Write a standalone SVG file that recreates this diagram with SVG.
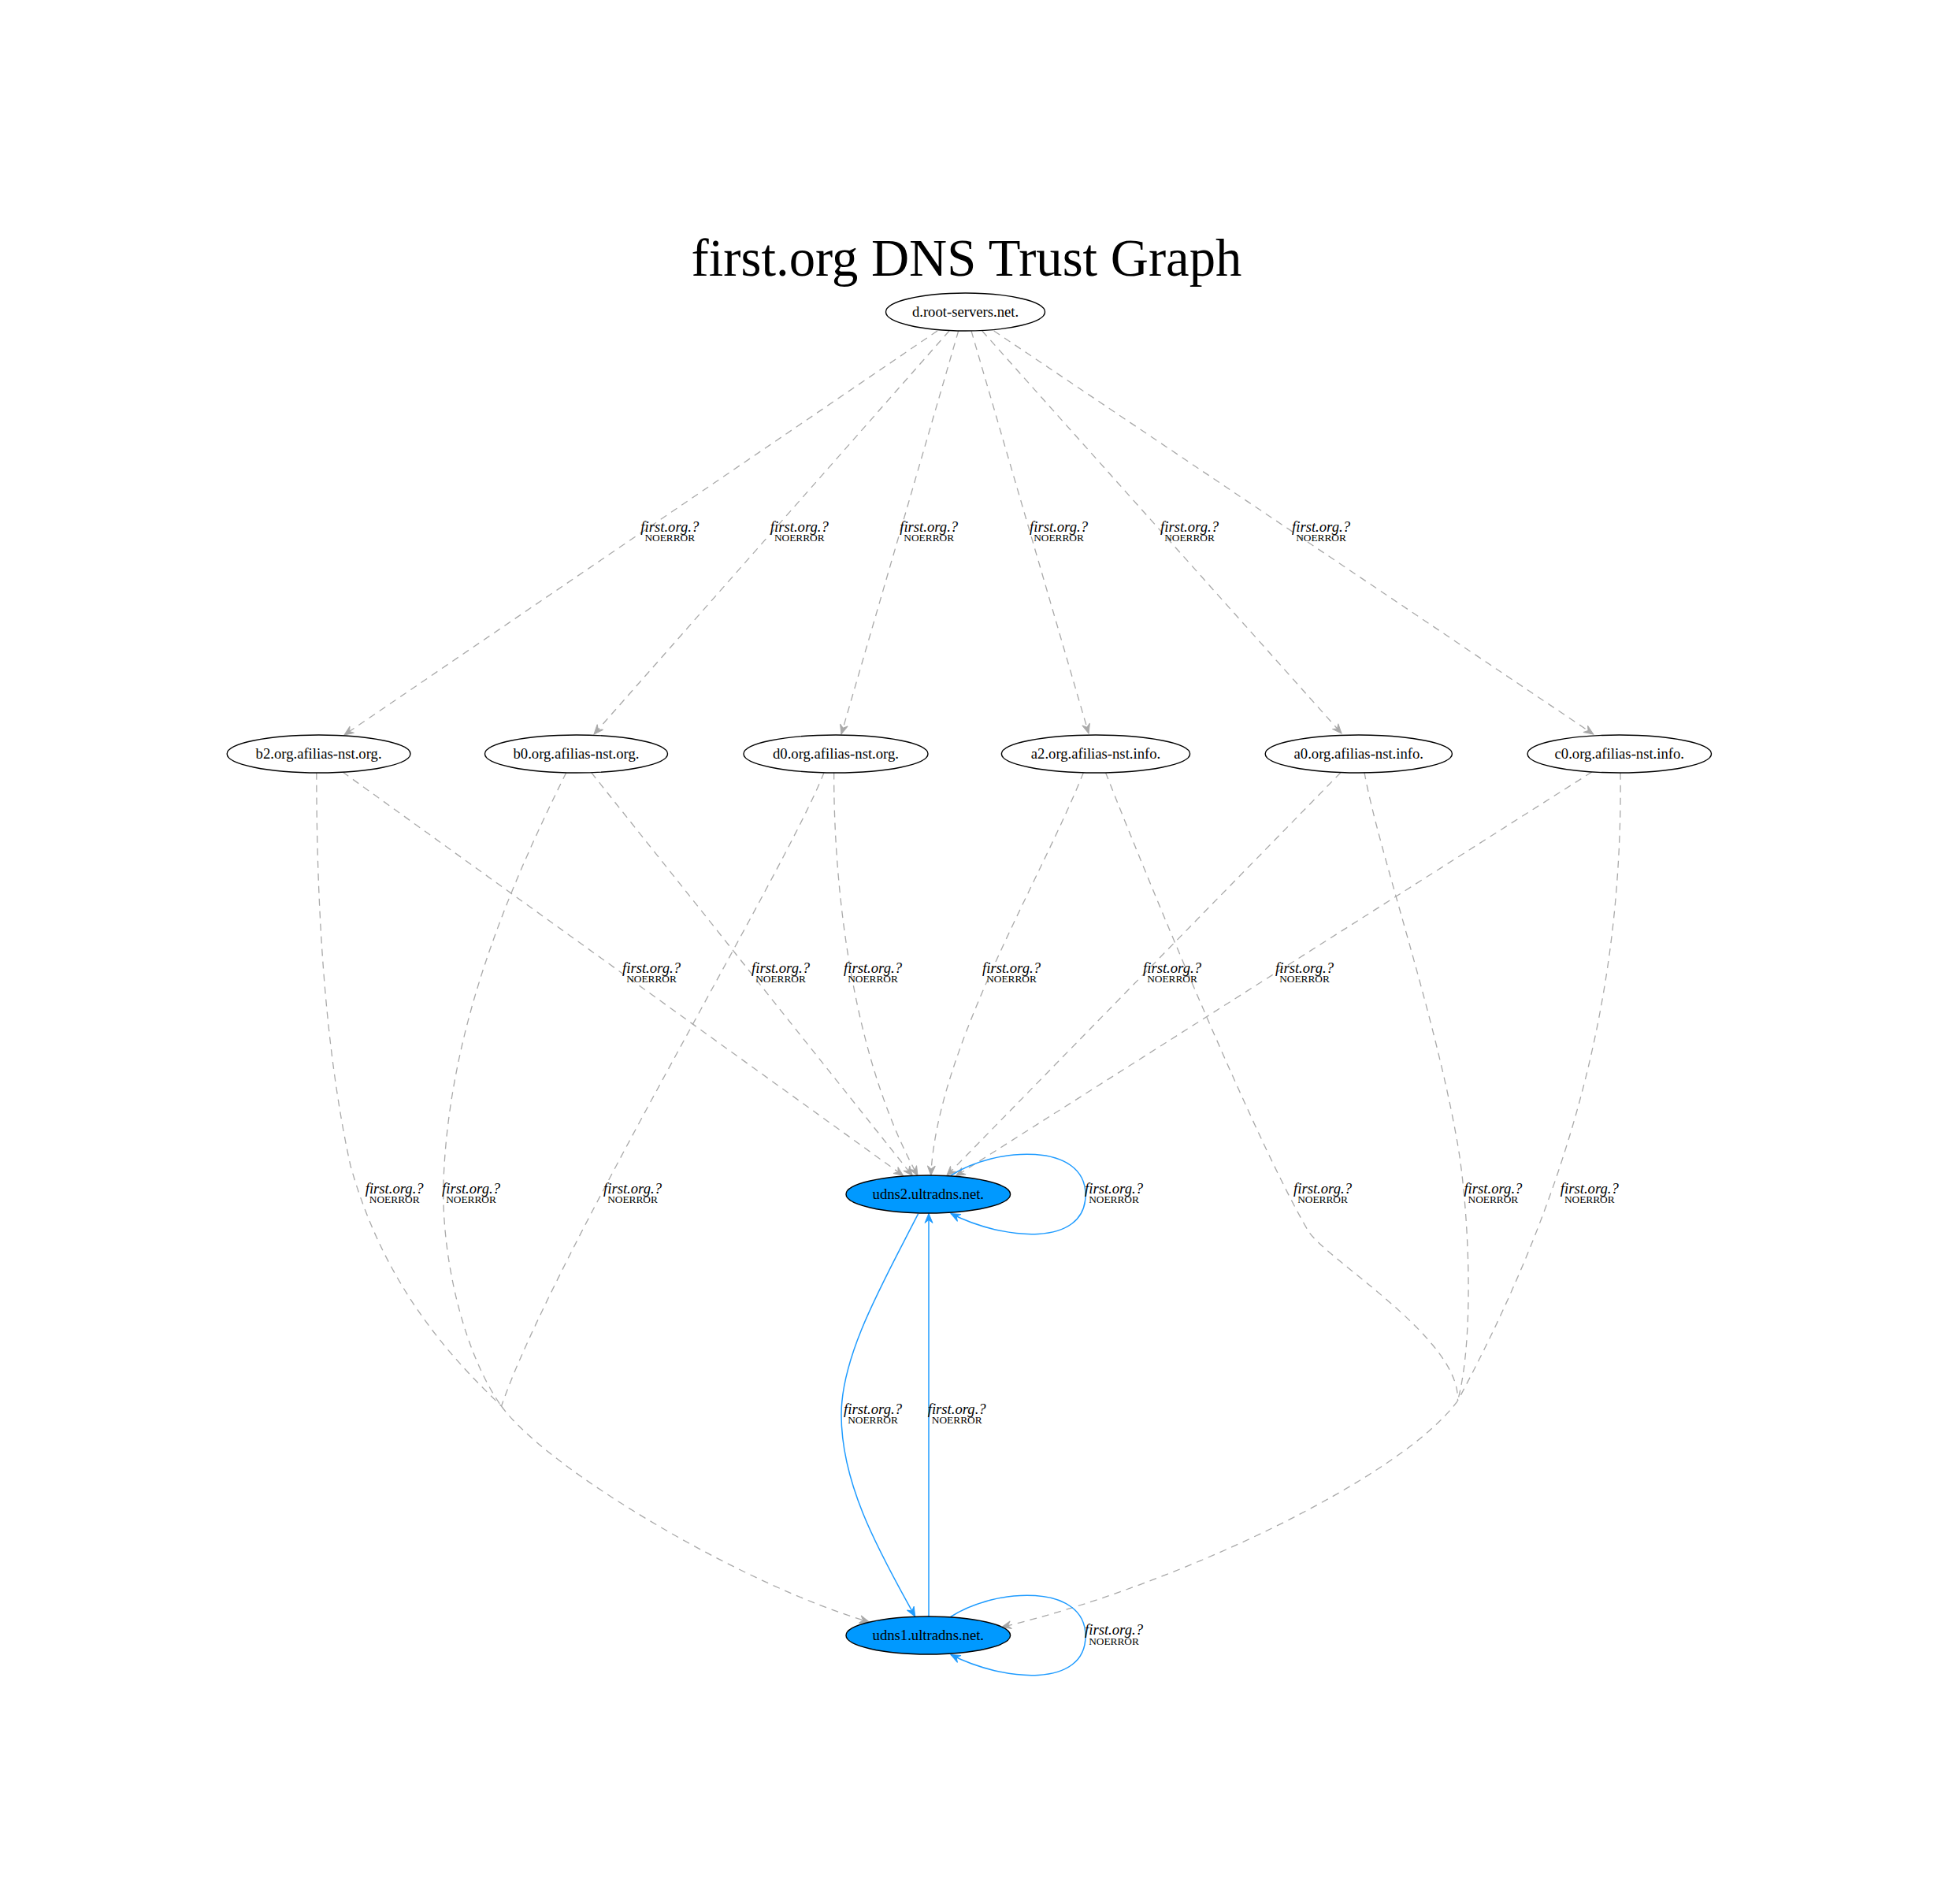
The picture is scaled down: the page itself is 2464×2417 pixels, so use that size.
<svg xmlns="http://www.w3.org/2000/svg" width="2464" height="2417" viewBox="0 0 2464 2417">
<style>
  .title { font-family: "Liberation Serif", "Times New Roman", serif; font-size: 66.67px; fill: #000; }
  .node ellipse { stroke: #000; stroke-width: 1.4; }
  .plain ellipse { fill: #fff; }
  .ns ellipse { fill: #0099ff; }
  .node text { font-family: "Liberation Serif", "Times New Roman", serif; font-size: 18.67px; fill: #000; text-anchor: middle; }
  .e { fill: none; stroke: #a9a9a9; stroke-width: 1.3; stroke-dasharray: 9,7; }
  .b { fill: none; stroke: #1e9bff; stroke-width: 1.5; }
  .lq { font-family: "Liberation Serif", "Times New Roman", serif; font-style: italic; font-size: 18.67px; fill: #000; text-anchor: middle; }
  .lr { font-family: "Liberation Serif", "Times New Roman", serif; font-size: 13.33px; fill: #000; text-anchor: middle; }
</style>
<defs>
  <marker id="ag" markerUnits="userSpaceOnUse" orient="auto" viewBox="-13 -7 14 14" refX="0" refY="0" markerWidth="14" markerHeight="14">
    <path d="M0,0 L-12,-5 L-8,0 L-12,5 Z" fill="#a9a9a9" stroke="#a9a9a9" stroke-width="1"/>
  </marker>
  <marker id="ab" markerUnits="userSpaceOnUse" orient="auto" viewBox="-13 -7 14 14" refX="0" refY="0" markerWidth="14" markerHeight="14">
    <path d="M0,0 L-12,-5 L-8,0 L-12,5 Z" fill="#1e9bff" stroke="#1e9bff" stroke-width="1"/>
  </marker>
</defs>
<rect x="0" y="0" width="2464" height="2417" fill="#fff"/>
<text class="title" x="1227" y="350" text-anchor="middle">first.org DNS Trust Graph</text>

<g id="connectors">
  <!-- d.root -> level 2 -->
  <path class="e" d="M1190,420 L437,933" marker-end="url(#ag)"/>
  <path class="e" d="M1205,420 L754,932" marker-end="url(#ag)"/>
  <path class="e" d="M1216.7,420 L1068,932" marker-end="url(#ag)"/>
  <path class="e" d="M1233,420 L1382,931" marker-end="url(#ag)"/>
  <path class="e" d="M1246.7,420 L1703,931" marker-end="url(#ag)"/>
  <path class="e" d="M1261.7,420 L2022.7,932" marker-end="url(#ag)"/>
  <!-- level 2 -> udns2 -->
  <path class="e" d="M435,980 L1146.7,1492.5" marker-end="url(#ag)"/>
  <path class="e" d="M750.6,980.7 L1158.3,1492.5" marker-end="url(#ag)"/>
  <path class="e" d="M1058.7,980.7 C1058,1100 1075,1330 1165,1492.5" marker-end="url(#ag)"/>
  <path class="e" d="M1375.4,980.7 C1320,1120 1190,1330 1181.7,1492" marker-end="url(#ag)"/>
  <path class="e" d="M1702,980.7 L1201.7,1492.5" marker-end="url(#ag)"/>
  <path class="e" d="M2020.8,980 L1213.3,1493" marker-end="url(#ag)"/>
  <!-- level 2 -> udns1 (concentrated) -->
  <path class="e" d="M401.8,980.7 C402,1150 412,1330 445,1480 C490,1640 580,1730 636.5,1785"/>
  <path class="e" d="M718.8,980.7 C650,1120 570,1300 563,1500 C560,1600 590,1720 636.5,1785"/>
  <path class="e" d="M1046,980.7 C1000,1100 700,1600 636.5,1785"/>
  <path class="e" d="M636.5,1785 C695.5,1866 943,2012 1103.3,2059" marker-end="url(#ag)"/>
  <path class="e" d="M1403.5,980.7 C1470,1150 1600,1460 1661,1563 C1685,1600 1855,1700 1850.4,1778.3"/>
  <path class="e" d="M1732,980.7 C1750,1080 1820,1280 1850,1450 C1865,1535 1872,1700 1850.4,1778.3"/>
  <path class="e" d="M2057,980.7 C2060,1250 2000,1500 1850.4,1778.3"/>
  <path class="e" d="M1850.4,1778.3 C1779.6,1875.5 1491.7,2013.5 1271.7,2065.5" marker-end="url(#ag)"/>
  <!-- blue -->
  <path class="b" d="M1165.7,1540.7 C1120,1630 1068,1720 1068,1796 C1068,1880 1110,1960 1161.7,2052" marker-end="url(#ab)"/>
  <path class="b" d="M1179,2052 L1179,1540.5" marker-end="url(#ab)"/>
  <path class="b" d="M1206.7,1492.5 C1265,1455 1378,1450 1378,1516.7 C1378,1583 1275,1575 1207,1540.5" marker-end="url(#ab)"/>
  <path class="b" d="M1206.7,2052.5 C1265,2015 1378,2010 1378,2076.7 C1378,2143 1275,2135 1207,2100.5" marker-end="url(#ab)"/>

  <!-- labels -->
  <g id="labels">
    <text class="lq" x="850.3" y="674.5">first.org.?</text><text class="lr" x="850.3" y="687">NOERROR</text>
    <text class="lq" x="1014.8" y="674.5">first.org.?</text><text class="lr" x="1014.8" y="687">NOERROR</text>
    <text class="lq" x="1179.2" y="674.5">first.org.?</text><text class="lr" x="1179.2" y="687">NOERROR</text>
    <text class="lq" x="1344" y="674.5">first.org.?</text><text class="lr" x="1344" y="687">NOERROR</text>
    <text class="lq" x="1510" y="674.5">first.org.?</text><text class="lr" x="1510" y="687">NOERROR</text>
    <text class="lq" x="1677" y="674.5">first.org.?</text><text class="lr" x="1677" y="687">NOERROR</text>

    <text class="lq" x="827" y="1234.5">first.org.?</text><text class="lr" x="827" y="1247">NOERROR</text>
    <text class="lq" x="991" y="1234.5">first.org.?</text><text class="lr" x="991" y="1247">NOERROR</text>
    <text class="lq" x="1108" y="1234.5">first.org.?</text><text class="lr" x="1108" y="1247">NOERROR</text>
    <text class="lq" x="1284" y="1234.5">first.org.?</text><text class="lr" x="1284" y="1247">NOERROR</text>
    <text class="lq" x="1488" y="1234.5">first.org.?</text><text class="lr" x="1488" y="1247">NOERROR</text>
    <text class="lq" x="1656" y="1234.5">first.org.?</text><text class="lr" x="1656" y="1247">NOERROR</text>

    <text class="lq" x="500.7" y="1514.5">first.org.?</text><text class="lr" x="500.7" y="1527">NOERROR</text>
    <text class="lq" x="598" y="1514.5">first.org.?</text><text class="lr" x="598" y="1527">NOERROR</text>
    <text class="lq" x="803" y="1514.5">first.org.?</text><text class="lr" x="803" y="1527">NOERROR</text>
    <text class="lq" x="1414" y="1514.5">first.org.?</text><text class="lr" x="1414" y="1527">NOERROR</text>
    <text class="lq" x="1679" y="1514.5">first.org.?</text><text class="lr" x="1679" y="1527">NOERROR</text>
    <text class="lq" x="1895.4" y="1514.5">first.org.?</text><text class="lr" x="1895.4" y="1527">NOERROR</text>
    <text class="lq" x="2017.8" y="1514.5">first.org.?</text><text class="lr" x="2017.8" y="1527">NOERROR</text>

    <text class="lq" x="1108" y="1794.5">first.org.?</text><text class="lr" x="1108" y="1807">NOERROR</text>
    <text class="lq" x="1214.7" y="1794.5">first.org.?</text><text class="lr" x="1214.7" y="1807">NOERROR</text>

    <text class="lq" x="1414" y="2075">first.org.?</text><text class="lr" x="1414" y="2087.5">NOERROR</text>
  </g>
</g>

<g id="n_droot" class="node plain"><ellipse cx="1225.5" cy="396" rx="101" ry="24"/><text x="1225.5" y="401.5">d.root-servers.net.</text></g>
<g id="n_b2" class="node plain"><ellipse cx="404.6" cy="957" rx="116.4" ry="24"/><text x="404.6" y="962.5">b2.org.afilias-nst.org.</text></g>
<g id="n_b0" class="node plain"><ellipse cx="731.5" cy="957" rx="116" ry="24"/><text x="731.5" y="962.5">b0.org.afilias-nst.org.</text></g>
<g id="n_d0" class="node plain"><ellipse cx="1061" cy="957" rx="117" ry="24"/><text x="1061" y="962.5">d0.org.afilias-nst.org.</text></g>
<g id="n_a2" class="node plain"><ellipse cx="1391" cy="957" rx="119.6" ry="24"/><text x="1391" y="962.5">a2.org.afilias-nst.info.</text></g>
<g id="n_a0" class="node plain"><ellipse cx="1724.8" cy="957" rx="118.6" ry="24"/><text x="1724.8" y="962.5">a0.org.afilias-nst.info.</text></g>
<g id="n_c0" class="node plain"><ellipse cx="2055.8" cy="957" rx="116.7" ry="24"/><text x="2055.8" y="962.5">c0.org.afilias-nst.info.</text></g>
<g id="n_udns2" class="node ns"><ellipse cx="1178.3" cy="1516" rx="104.3" ry="24"/><text x="1178.3" y="1521.5">udns2.ultradns.net.</text></g>
<g id="n_udns1" class="node ns"><ellipse cx="1178.3" cy="2076" rx="104.3" ry="24"/><text x="1178.3" y="2081.5">udns1.ultradns.net.</text></g>
</svg>
